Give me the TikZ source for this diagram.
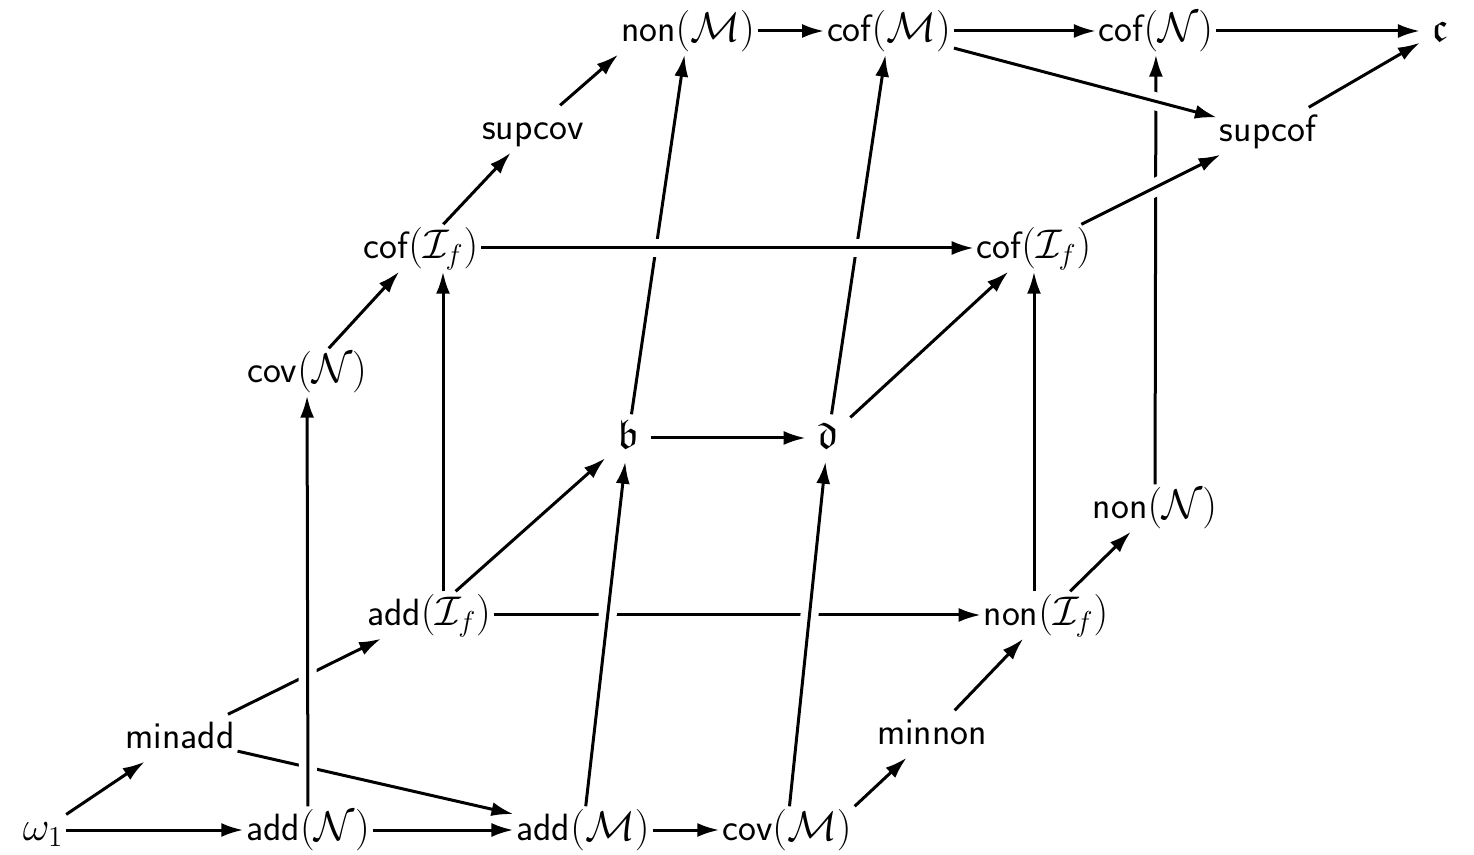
\documentclass[tikz,border=0pt]{standalone}
\usepackage{amssymb}
\usepackage{fontspec}
\usetikzlibrary{arrows.meta}
\newcommand{\mpart}[1]{{\fontsize{20.74}{24}\selectfont$#1$}}
\begin{document}
\begin{tikzpicture}[x=0.5pt,y=-0.5pt,
  lbl/.style={font=\sffamily\fontsize{19}{22}\selectfont, inner sep=1.5pt, outer sep=0pt, text height=15.5pt, text depth=5.2pt},
  frak/.style={lbl, inner xsep=6pt},
  arr/.style={-{Latex[length=11pt,width=7pt]}, line width=1.5pt},
  halo/.style={preaction={draw=white, line width=9pt, -, shorten <=8pt, shorten >=8pt}},
]
\useasboundingbox (0,0) rectangle (1474,855);
% nodes
\node[lbl] (w1) at (43,830) {\mpart{\omega_1}};
\node[lbl] (addN) at (308,830) {add\mpart{(\mathcal{N})}};
\node[lbl] (addM) at (583,830) {add\mpart{(\mathcal{M})}};
\node[lbl] (covM) at (787,830) {cov\mpart{(\mathcal{M})}};
\node[lbl] (minadd) at (180,738) {minadd};
\node[lbl] (minnon) at (932,734) {minnon};
\node[lbl] (addIf) at (429,615) {add\mpart{(\mathcal{I}_f)}};
\node[lbl] (nonIf) at (1046,615) {non\mpart{(\mathcal{I}_f)}};
\node[lbl] (nonN) at (1155,508) {non\mpart{(\mathcal{N})}};
\node[frak] (b) at (628,438) {\mpart{\mathfrak{b}}};
\node[frak] (d) at (828,438) {\mpart{\mathfrak{d}}};
\node[lbl] (covN) at (307,372) {cov\mpart{(\mathcal{N})}};
\node[lbl] (cofIfL) at (421,248) {cof\mpart{(\mathcal{I}_f)}};
\node[lbl] (cofIfR) at (1034,248) {cof\mpart{(\mathcal{I}_f)}};
\node[lbl] (supcov) at (533,129) {supcov};
\node[lbl] (supcof) at (1268,131) {supcof};
\node[lbl] (nonM) at (688,31) {non\mpart{(\mathcal{M})}};
\node[lbl] (cofM) at (889,31) {cof\mpart{(\mathcal{M})}};
\node[lbl] (cofN) at (1156,31) {cof\mpart{(\mathcal{N})}};
\node[frak] (c) at (1440,31) {\mpart{\mathfrak{c}}};
% back lines (interrupted by crossings)
\draw[arr] (nonN) -- (cofN);
\draw[arr] (minadd) -- (addIf);
\draw[arr] (minadd) -- (addM);
\draw[arr] (addIf) -- (nonIf);
\draw[arr] (b) -- (nonM);
\draw[arr] (d) -- (cofM);
% front lines
\draw[arr,halo] (addN) -- (covN);
\draw[arr,halo] (addM) -- (b);
\draw[arr,halo] (covM) -- (d);
\draw[arr,halo] (cofIfL) -- (cofIfR);
\draw[arr,halo] (cofM) -- (supcof);
\draw[arr,halo] (cofIfR) -- (supcof);
% other arrows
\draw[arr] (w1) -- (addN);
\draw[arr] (w1) -- (minadd);
\draw[arr] (addN) -- (addM);
\draw[arr] (addM) -- (covM);
\draw[arr] (covM.north east) -- (minnon);
\draw[arr] (minnon) -- (nonIf);
\draw[arr] (addIf) -- (b);
\draw[arr] ([xshift=7pt]addIf.north) -- ([xshift=7pt]addIf.north |- cofIfL.south);
\draw[arr] (cofIfR.south |- nonIf.north) -- (cofIfR.south);
\draw[arr] (nonIf) -- (nonN);
\draw[arr] (b) -- (d);
\draw[arr] (d) -- (cofIfR);
\draw[arr] (covN) -- (cofIfL);
\draw[arr] (cofIfL) -- (supcov);
\draw[arr] (supcov) -- (nonM.south west);
\draw[arr] (nonM) -- (cofM);
\draw[arr] (cofM) -- (cofN);
\draw[arr] (cofN) -- (c);
\draw[arr] (supcof) -- (c);
\end{tikzpicture}
\end{document}
